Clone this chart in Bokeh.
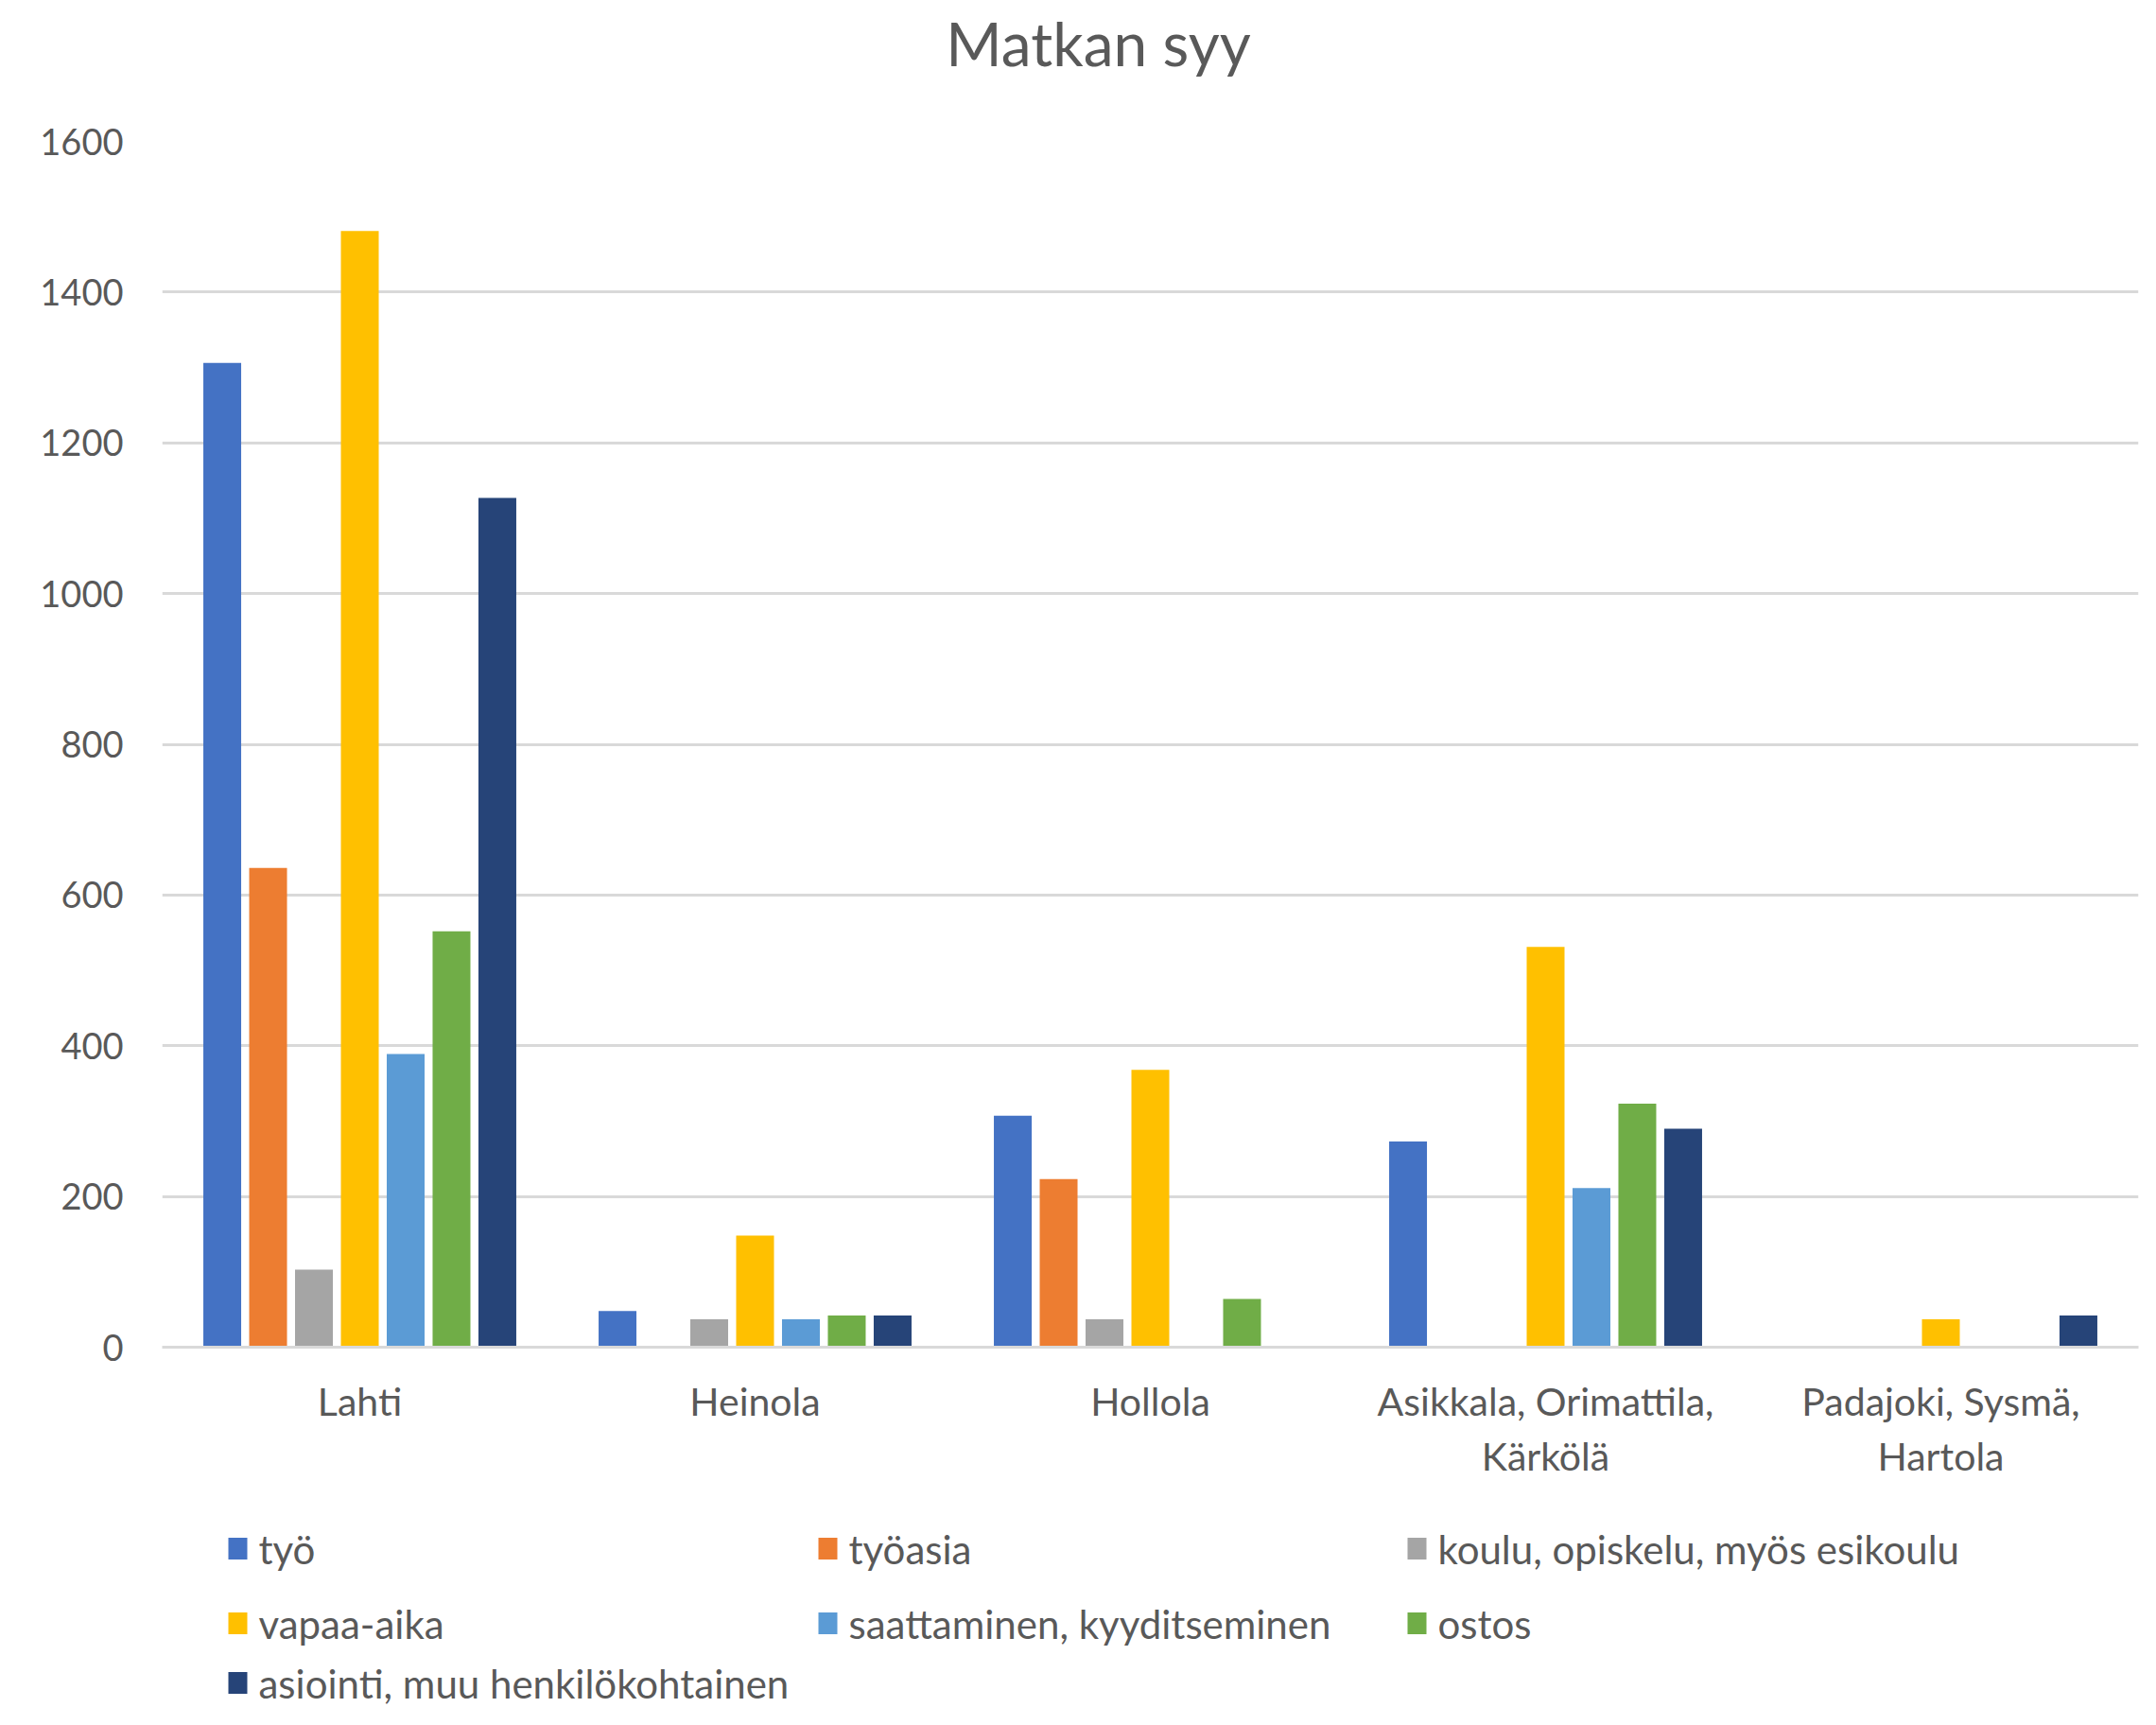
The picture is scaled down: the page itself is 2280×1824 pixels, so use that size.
from bokeh.plotting import figure
from bokeh.layouts import column
from bokeh.models import (ColumnDataSource, FactorRange, Range1d, SingleIntervalTicker)
from bokeh.core.properties import value
from bokeh.transform import dodge
from bokeh.embed import file_html
from bokeh.resources import INLINE

# ---- data ----
title_text = "Matkan syy"
categories = ["Lahti", "Heinola", "Hollola", "Asikkala, Orimattila,\nKärkölä", "Padajoki, Sysmä,\nHartola"]
series_names = ["työ", "työasia", "koulu, opiskelu, myös esikoulu", "vapaa-aika",
                "saattaminen, kyyditseminen", "ostos", "asiointi, muu henkilökohtainen"]
tyo = [1306, 48, 307, 273, 0]
tyoasia = [636, 0, 223, 0, 0]
koulu = [103, 37, 37, 0, 0]
vapaa_aika = [1481, 148, 368, 531, 37]
saattaminen = [389, 37, 0, 211, 0]
ostos = [552, 42, 64, 323, 0]
asiointi = [1127, 42, 0, 290, 42]
colors = ["#4472C4", "#ED7D31", "#A5A5A5", "#FFC000", "#5B9BD5", "#70AD47", "#264478"]

series_values = [tyo, tyoasia, koulu, vapaa_aika, saattaminen, ostos, asiointi]
keys = ["s%d" % i for i in range(len(series_values))]
data = {"cat": categories}
for k, v in zip(keys, series_values):
    data[k] = v
source = ColumnDataSource(data)

FONT = "Lato"
TXT = "#595959"
GRID = "#D9D9D9"
W = 2264
BL, BR = 171, 3          # left / right borders shared by all three panels
H_TITLE = 118
H_MAIN = 1466
H_LEG = 1808 - H_TITLE - H_MAIN


def blank_panel(h):
    f = figure(width=W, height=h, output_backend="svg", toolbar_location=None,
               x_range=Range1d(BL, W - BR), y_range=Range1d(h, 0),
               x_axis_location=None, y_axis_location=None,
               min_border_left=BL, min_border_right=BR, min_border_top=0, min_border_bottom=0)
    f.outline_line_color = None
    f.grid.visible = False
    return f


# ---- title panel ----
tp = blank_panel(H_TITLE)
tp.text(x=[1161], y=[45], text=[title_text], text_font=value(FONT), text_font_size="64px",
        text_color=TXT, text_align="center", text_baseline="middle")

# ---- main chart ----
p = figure(width=W, height=H_MAIN, output_backend="svg", toolbar_location=None,
           x_range=FactorRange(*categories, range_padding=0),
           y_range=Range1d(0, 1600),
           min_border_left=BL, min_border_right=BR, min_border_top=31,
           min_border_bottom=160)
p.outline_line_color = None

slot = 0.116
width = 0.0957
for j, (k, c) in enumerate(zip(keys, colors)):
    p.vbar(x=dodge("cat", (j - 3) * slot, range=p.x_range), top=k, width=width,
           source=source, color=c, line_color=None)

p.yaxis.ticker = SingleIntervalTicker(interval=200)
p.yaxis.axis_line_color = None
p.yaxis.major_tick_line_color = None
p.yaxis.minor_tick_line_color = None
p.yaxis.major_label_standoff = 35
p.yaxis.major_label_text_font = FONT
p.yaxis.major_label_text_font_size = "38px"
p.yaxis.major_label_text_color = TXT

p.xaxis.axis_line_color = GRID
p.xaxis.axis_line_width = 3
p.xaxis.major_tick_line_color = None
p.xaxis.minor_tick_line_color = None
p.xaxis.major_label_standoff = 26
p.xaxis.major_label_text_font = FONT
p.xaxis.major_label_text_font_size = "41px"
p.xaxis.major_label_text_color = TXT

p.xgrid.grid_line_color = None
p.ygrid.grid_line_color = GRID
p.ygrid.grid_line_width = 3

# ---- legend panel ----
col_x = [241, 865, 1488]
row_y = [53, 132, 195]
leg_x = [col_x[i % 3] for i in range(len(series_names))]
leg_y = [row_y[i // 3] for i in range(len(series_names))]
leg_src = ColumnDataSource(dict(x=leg_x, y=leg_y, label=series_names, color=colors))

lg = blank_panel(H_LEG)
lg.rect(x=dodge("x", 10), y="y", width=20, height=23, color="color", line_color=None,
        source=leg_src)
lg.text(x=dodge("x", 32), y="y", text="label", source=leg_src, text_font=value(FONT),
        text_font_size="42px", text_color=TXT, text_baseline="middle", text_align="left")

layout = column(tp, p, lg, spacing=0)
open("out.html", "w").write(file_html(layout, INLINE))
